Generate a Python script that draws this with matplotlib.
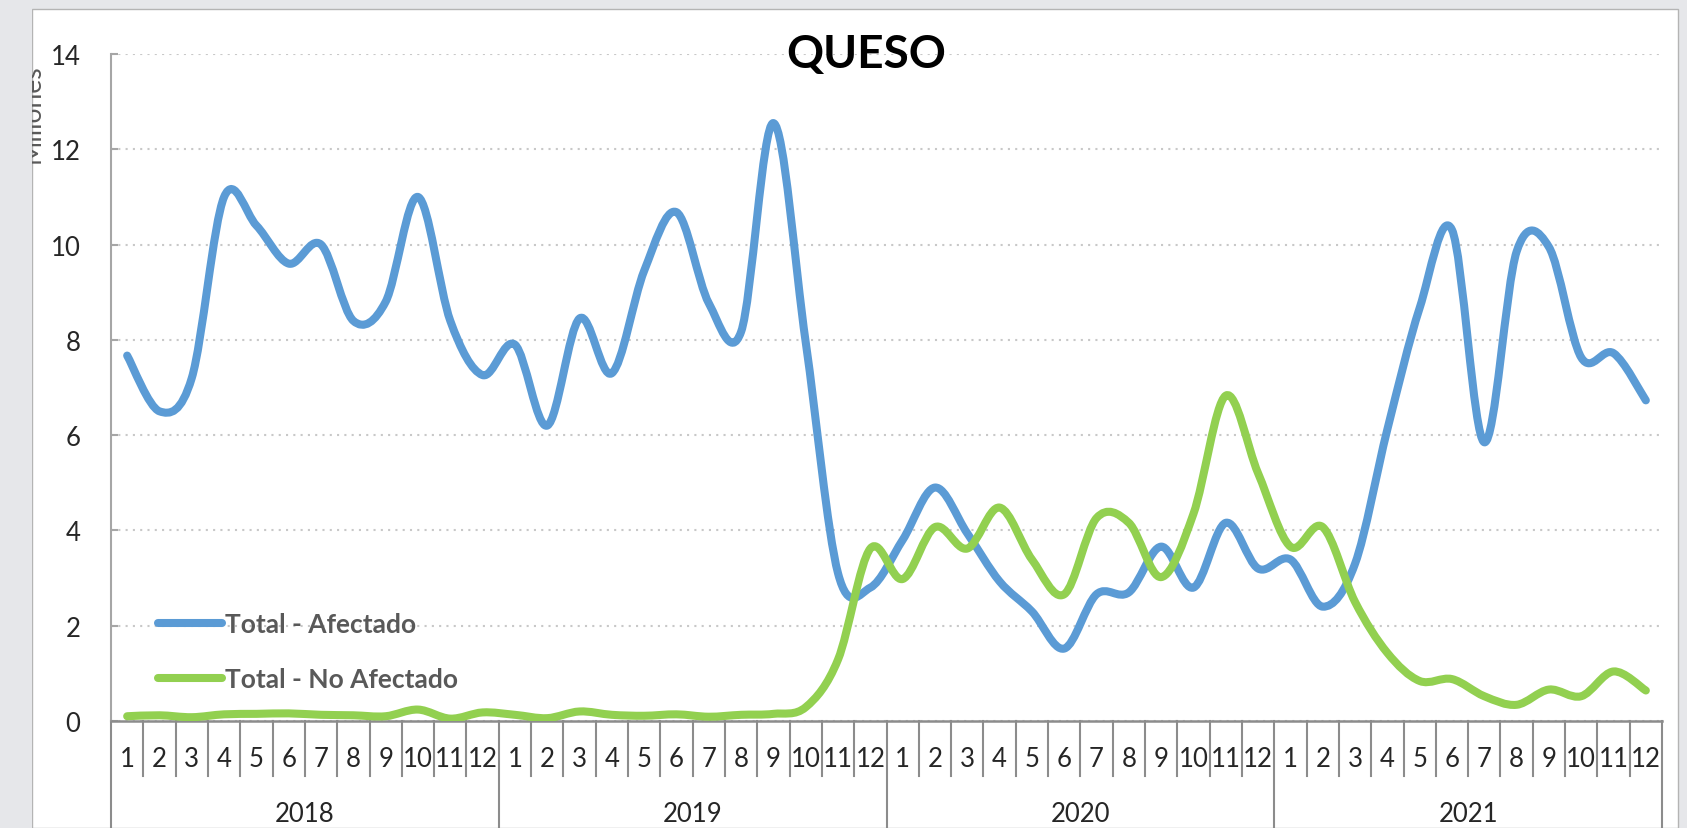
import matplotlib.pyplot as plt
import numpy as np
from matplotlib.path import Path
from matplotlib.patches import PathPatch, Rectangle
from matplotlib.lines import Line2D
from matplotlib.transforms import blended_transform_factory

plt.rcParams['font.family'] = ['Lato', 'DejaVu Sans']

# data (millions), monthly 2018-2021
years = ["2018", "2019", "2020", "2021"]
months = [str(m) for m in range(1, 13)]

afectado = [7.67, 6.5, 7.2, 11.0, 10.4, 9.6, 10.0, 8.4, 8.8, 11.0, 8.4, 7.26,
            7.9, 6.2, 8.45, 7.3, 9.45, 10.68, 8.77, 8.17, 12.55, 7.95, 3.1, 2.8,
            3.8, 4.9, 3.94, 2.93, 2.3, 1.52, 2.66, 2.7, 3.66, 2.8, 4.16, 3.2,
            3.39, 2.4, 3.3, 6.12, 8.67, 10.31, 5.85, 9.85, 9.95, 7.63, 7.72, 6.73]
no_afectado = [0.1, 0.12, 0.08, 0.14, 0.15, 0.16, 0.13, 0.12, 0.1, 0.24, 0.05, 0.18,
               0.13, 0.06, 0.2, 0.13, 0.11, 0.14, 0.09, 0.13, 0.15, 0.29, 1.29, 3.62,
               2.98, 4.07, 3.62, 4.48, 3.39, 2.66, 4.26, 4.16, 3.02, 4.35, 6.83, 5.2,
               3.66, 4.07, 2.5, 1.43, 0.84, 0.88, 0.52, 0.34, 0.66, 0.52, 1.04, 0.64]

blue = '#5b9bd5'
green = '#92d050'
gray = '#8c8c8c'


def smooth_path(xs, ys):
    # excel-like smoothed line: bezier segments through every point
    pts = np.column_stack([xs, ys])
    n = len(pts)
    verts = [pts[0]]
    codes = [Path.MOVETO]
    for i in range(n - 1):
        p0 = pts[max(i - 1, 0)]
        p1 = pts[i]
        p2 = pts[i + 1]
        p3 = pts[min(i + 2, n - 1)]
        verts += [p1 + (p2 - p0) / 6, p2 - (p3 - p1) / 6, p2]
        codes += [Path.CURVE4] * 3
    return Path(verts, codes)


W, H = 1687, 829
fig = plt.figure(figsize=(W / 100, H / 100), dpi=100)
fig.patch.set_facecolor('#e6e7ea')

# white chart panel
fig.patches.append(Rectangle((32 / W, 0), (1678 - 32) / W, 1 - 10 / H, transform=fig.transFigure,
                             facecolor='white', edgecolor='#b4b4b4', lw=1, zorder=-3))
# y axis title, half hidden behind the panel edge
fig.text(45 / W, 1 - 114 / H, "Millones", rotation=90, ha='right', va='center',
         fontsize=19, color='#595959', zorder=-2)
fig.patches.append(Rectangle((0, 0), 32 / W, 1, transform=fig.transFigure,
                             facecolor='#e6e7ea', edgecolor='none', zorder=-1))

ax = fig.add_axes([111 / W, 1 - 722 / H, (1662 - 111) / W, 667 / H])
ax.set_facecolor('none')

x = np.arange(len(afectado)) + 0.5
ax.add_patch(PathPatch(smooth_path(x, afectado), fill=False, edgecolor=blue, lw=5.8,
                       capstyle='round', joinstyle='round', zorder=3))
ax.add_patch(PathPatch(smooth_path(x, no_afectado), fill=False, edgecolor=green, lw=5.8,
                       capstyle='round', joinstyle='round', zorder=3))

ax.set_xlim(0, len(afectado))
ax.set_ylim(0, 14)
ax.set_yticks(range(0, 15, 2))
ax.tick_params(axis='y', direction='in', length=5, width=1.5, color='#a6a6a6',
               labelsize=18.5, labelcolor='#262626', pad=22)
ax.set_xticks([])
ax.yaxis.grid(True, linestyle=(0, (1, 2.5)), color='#c8c8c8', lw=1.5)
ax.set_axisbelow(True)
for s in ['top', 'right']:
    ax.spines[s].set_visible(False)
ax.spines['left'].set_color('#a6a6a6')
ax.spines['left'].set_linewidth(1.5)
ax.spines['bottom'].set_color(gray)
ax.spines['bottom'].set_linewidth(1.8)

# two-level category axis
tr = blended_transform_factory(ax.transData, ax.transAxes)
for k in range(len(afectado) + 1):
    bottom = -0.18 if k % 12 == 0 else -0.0825
    ax.plot([k, k], [0, bottom], color=gray, lw=1.5, transform=tr, clip_on=False)
for i in range(len(afectado)):
    ax.text(i + 0.5, -0.056, months[i % 12], transform=tr, ha='center', va='center',
            fontsize=18.5, color='#262626')
for j, yr in enumerate(years):
    ax.text(12 * j + 6, -0.139, yr, transform=tr, ha='center', va='center',
            fontsize=18.5, color='#262626')

fig.text(866 / W, 1 - 55 / H, "QUESO", ha='center', va='center', fontsize=33,
         fontweight='bold', color='black')

handles = [Line2D([], [], color=blue, lw=5.8, solid_capstyle='round'),
           Line2D([], [], color=green, lw=5.8, solid_capstyle='round')]
leg = ax.legend(handles, ["Total - Afectado", "Total - No Afectado"], loc='center left',
                bbox_to_anchor=(0.03, 0.104), frameon=False, handlelength=2.45,
                handletextpad=0.12, labelspacing=1.15, borderaxespad=0, borderpad=0,
                prop={'size': 19, 'weight': 'bold'})
for t in leg.get_texts():
    t.set_color('#595959')

fig.savefig('out.png', dpi=100)
